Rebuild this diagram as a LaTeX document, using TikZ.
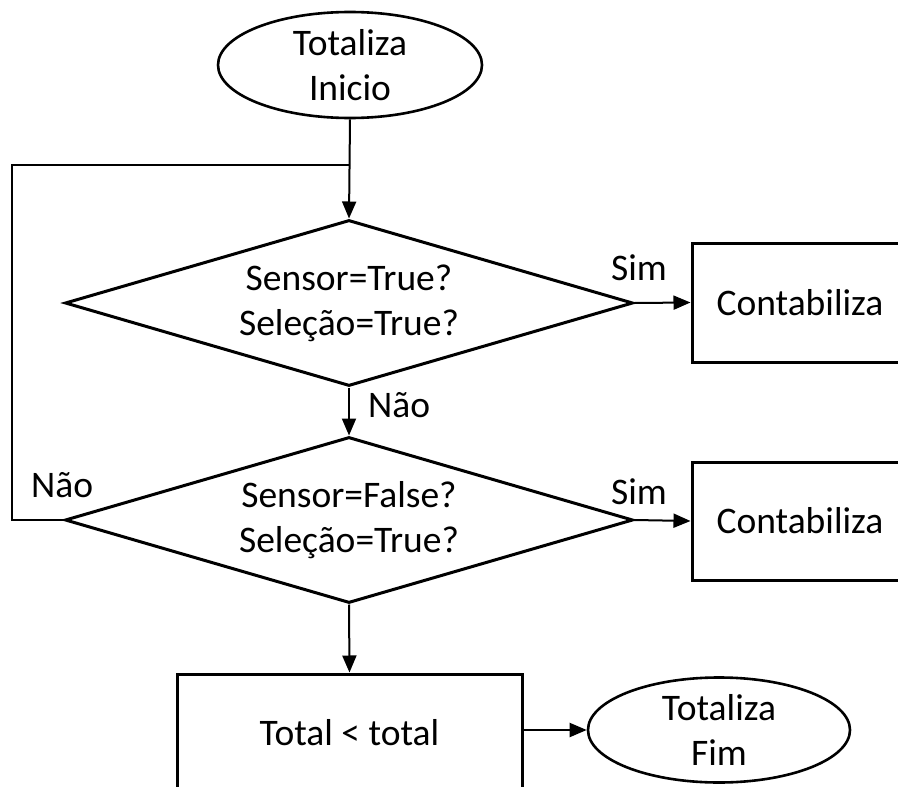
\documentclass[tikz,border=0pt]{standalone}
\usepackage{fontspec}
\setmainfont{Carlito}
\usetikzlibrary{shapes.geometric,arrows.meta}
\begin{document}
\begin{tikzpicture}[x=1pt,y=-1pt,
  every node/.style={font=\fontsize{37.5}{45}\selectfont, inner sep=0pt, align=center},
  term/.style={ellipse, draw, line width=2.6pt},
  decision/.style={diamond, aspect=3.4, draw, line width=3pt, minimum width=568pt, minimum height=166pt},
  proc/.style={rectangle, draw, line width=3pt},
  lbl/.style={},
  link/.style={line width=2pt},
  arrow/.style={link, -{Triangle[length=17pt,width=14pt]}}
]
\useasboundingbox (0,0) rectangle (898,787);
\clip (0,0) rectangle (898,787);

% shapes
\node[term, minimum width=264pt, minimum height=106pt] (start) at (350,65) {Totaliza\\Inicio};
\node[decision] (d1) at (349,303) {Sensor=True?\\Seleção=True?};
\node[proc, minimum width=216pt, minimum height=119pt] (c1) at (800,302.5) {Contabiliza};
\node[decision] (d2) at (349,520) {Sensor=False?\\Seleção=True?};
\node[proc, minimum width=216pt, minimum height=118pt] (c2) at (800,521) {Contabiliza};
\node[proc, minimum width=345pt, minimum height=118pt] (tot) at (349.5,733) {Total < total};
\node[term, minimum width=262pt, minimum height=105pt] (end) at (719,730) {Totaliza\\Fim};

% junction where the loop rejoins the main line
\coordinate (jy) at (0,165);
\coordinate (j) at (start.south |- jy);

% connectors
\draw[arrow] (start.south) -- (d1.north);
\draw[arrow] (d1.east) -- (c1.west);
\draw[arrow] (d1.south) -- (d2.north);
\draw[arrow] (d2.east) -- (c2.west);
\draw[arrow] (d2.south) -- (tot.north);
\draw[arrow] (end.west -| tot.east) -- (end.west);
\draw[link] (d2.west) -- ++(-52,0) |- (j);

% branch labels
\node[lbl, anchor=base] (s1) at (639,280) {Sim};
\node[lbl, anchor=base] (s2) at (639,504) {Sim};
\node[lbl, anchor=base west] (n1) at (368,417) {Não};
\node[lbl, anchor=base west] (n2) at (31,497) {Não};
\end{tikzpicture}
\end{document}
